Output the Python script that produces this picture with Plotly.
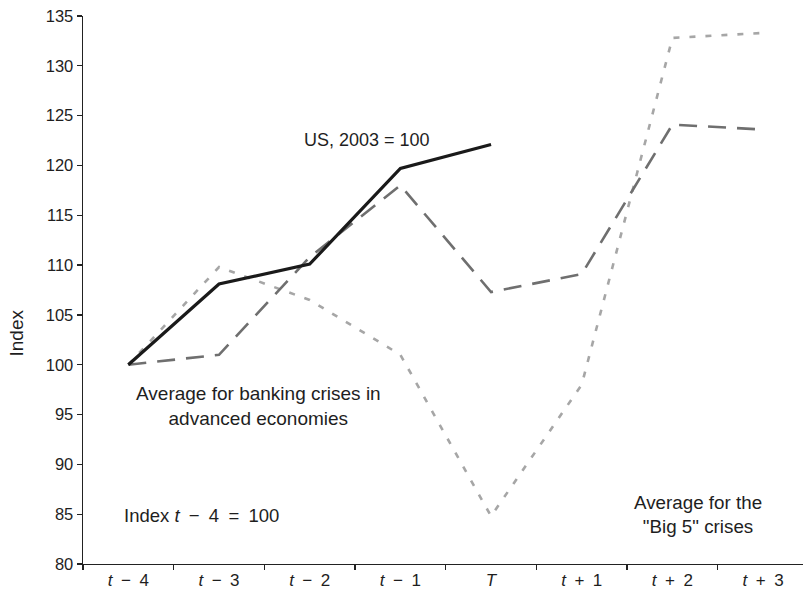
import plotly.graph_objects as go

categories = ["t-4", "t-3", "t-2", "t-1", "T", "t+1", "t+2", "t+3"]
SP = "\u2002"
tick_labels = [f"<i>t</i>{SP}−{SP}4", f"<i>t</i>{SP}−{SP}3", f"<i>t</i>{SP}−{SP}2", f"<i>t</i>{SP}−{SP}1",
               "<i>T</i>", f"<i>t</i>{SP}+{SP}1", f"<i>t</i>{SP}+{SP}2", f"<i>t</i>{SP}+{SP}3"]

us_values = [100, 108.1, 110.1, 119.7, 122.1]
banking_values = [100, 101.0, 110.8, 118.0, 107.3, 109.1, 124.1, 123.6]
big5_values = [100, 109.8, 106.5, 101.0, 84.8, 98.0, 132.8, 133.3]

FONT = "Liberation Sans, Arial, Helvetica, sans-serif"
TXT = "#1e1e1e"

fig = go.Figure()
fig.add_trace(go.Scatter(x=categories, y=big5_values, mode="lines",
                         line=dict(color="#a6a6a6", width=2.6, dash="6px,10px"),
                         name="Big 5"))
fig.add_trace(go.Scatter(x=categories, y=banking_values, mode="lines",
                         line=dict(color="#6f6f6f", width=2.6, dash="18px,11px"),
                         name="Banking"))
fig.add_trace(go.Scatter(x=categories[:len(us_values)], y=us_values, mode="lines",
                         line=dict(color="#1a1a1a", width=3.2),
                         name="US"))

def ann(size):
    return dict(xref="x", yref="y", showarrow=False, xanchor="center", yanchor="middle",
                font=dict(family=FONT, size=size, color=TXT))

fig.add_annotation(x=2.63, y=122.6, text="US, 2003 = 100", **ann(18))
fig.add_annotation(x=1.44, y=95.9, text="Average for banking crises in<br>advanced economies",
                   align="center", **ann(19))
fig.add_annotation(x=0.81, y=84.9, text=f"Index <i>t</i>{SP}−{SP}4{SP}={SP}100", **ann(18.5))
fig.add_annotation(x=6.28, y=85.0, text="Average for the<br>\"Big 5\" crises", align="center", **ann(18.8))
fig.add_annotation(xref="paper", yref="paper", x=-0.092, y=0.422, xanchor="center", yanchor="middle",
                   text="Index", textangle=-90, showarrow=False,
                   font=dict(family=FONT, size=19, color=TXT))

fig.update_layout(
    width=803, height=589,
    margin=dict(l=83, r=0, t=16, b=25, autoexpand=False),
    paper_bgcolor="white", plot_bgcolor="white",
    showlegend=False,
    font=dict(family=FONT, size=16, color=TXT),
)
fig.update_xaxes(
    type="category", categoryorder="array", categoryarray=categories,
    tickmode="array", tickvals=categories, ticktext=tick_labels,
    tickson="boundaries", ticks="outside", ticklen=5, tickwidth=1.3, tickcolor="#222",
    range=[-0.5, 7.44], showline=True, linecolor="#222", linewidth=1.4,
    showgrid=False, zeroline=False, automargin=False,
    tickfont=dict(family=FONT, size=17, color=TXT),
)
fig.update_yaxes(
    range=[80, 135], dtick=5, tick0=80,
    ticks="outside", ticklen=5, tickwidth=1.3, tickcolor="#222",
    showline=True, linecolor="#222", linewidth=1.4,
    showgrid=False, zeroline=False, automargin=False, ticklabeloverflow="allow",
    tickfont=dict(family=FONT, size=16.5, color=TXT),
)

fig.write_html("out.html",
               config={"displayModeBar": False, "staticPlot": True},
               post_script="document.body.style.margin='0';document.body.style.overflow='hidden';")
